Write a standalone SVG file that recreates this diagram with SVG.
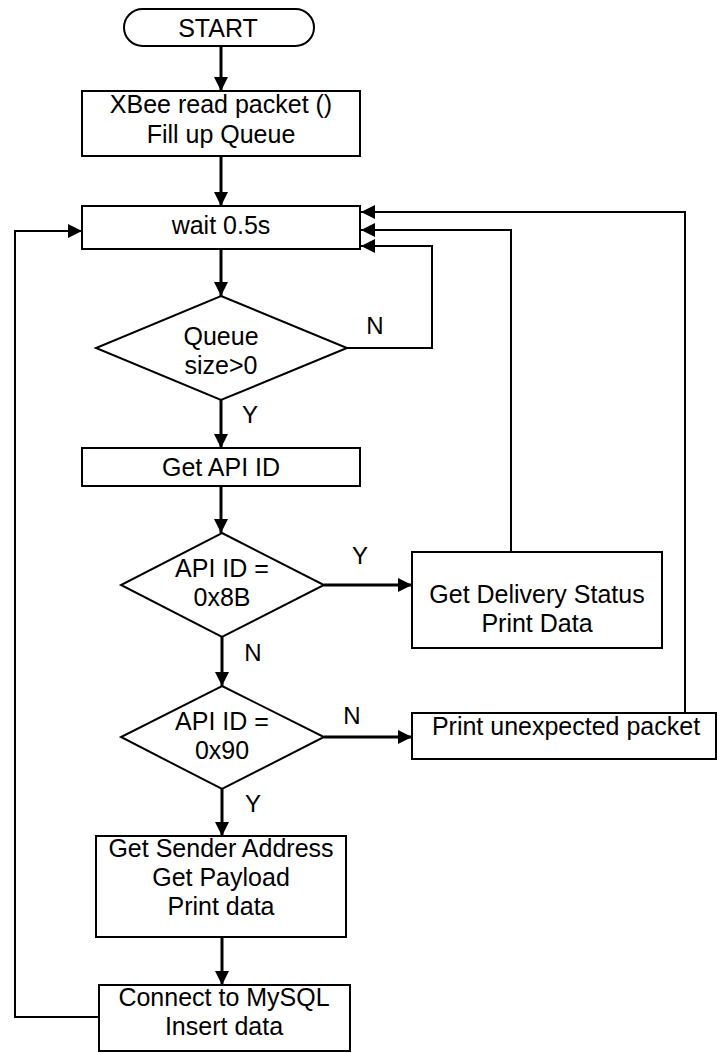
<svg xmlns="http://www.w3.org/2000/svg" width="718" height="1053" viewBox="0 0 718 1053">
<style>
.box{fill:#fff;stroke:#000;stroke-width:2}
.t{font-family:"Liberation Sans",Arial,sans-serif;font-size:25px;text-anchor:middle;fill:#000}
.lbl{font-family:"Liberation Sans",Arial,sans-serif;font-size:24px;text-anchor:middle;fill:#000}
.c{fill:none;stroke:#000;stroke-width:3}
.c2{fill:none;stroke:#000;stroke-width:2}
</style>
<defs>
<marker id="ah" markerUnits="userSpaceOnUse" markerWidth="14" markerHeight="14" refX="14" refY="7" orient="auto">
<path d="M0,0 L14,7 L0,14 z" fill="#000"/>
</marker>
</defs>
<rect width="718" height="1053" fill="#fff"/>
<g id="connectors">
<line class="c" x1="221" y1="46" x2="221" y2="91" marker-end="url(#ah)"/>
<line class="c" x1="221" y1="156" x2="221" y2="206" marker-end="url(#ah)"/>
<line class="c" x1="221" y1="249" x2="221" y2="296" marker-end="url(#ah)"/>
<line class="c" x1="221" y1="400" x2="221" y2="448" marker-end="url(#ah)"/>
<line class="c" x1="221" y1="486" x2="221" y2="533" marker-end="url(#ah)"/>
<line class="c" x1="222" y1="637" x2="222" y2="686" marker-end="url(#ah)"/>
<line class="c" x1="222" y1="789" x2="222" y2="836" marker-end="url(#ah)"/>
<line class="c" x1="222" y1="937" x2="222" y2="985" marker-end="url(#ah)"/>
<line class="c" x1="324" y1="585" x2="412" y2="585" marker-end="url(#ah)"/>
<line class="c" x1="324" y1="737" x2="412" y2="737" marker-end="url(#ah)"/>
<polyline class="c2" points="347,348 432,348 432,246 361,246" marker-end="url(#ah)"/>
<polyline class="c2" points="511,552 511,230 361,230" marker-end="url(#ah)"/>
<polyline class="c2" points="685,713 685,212 361,212" marker-end="url(#ah)"/>
<polyline class="c2" points="99,1017 15,1017 15,231 82,231" marker-end="url(#ah)"/>
<text class="lbl" x="375" y="334">N</text>
<text class="lbl" x="250" y="423">Y</text>
<text class="lbl" x="360" y="564">Y</text>
<text class="lbl" x="253" y="661">N</text>
<text class="lbl" x="352" y="724">N</text>
<text class="lbl" x="253" y="812">Y</text>
</g>
<g id="start">
<rect class="box" x="124" y="9" width="190" height="37" rx="18.5"/>
<text class="t" x="218" y="37">START</text>
</g>
<g id="read">
<rect class="box" x="82" y="91" width="278" height="65"/>
<text class="t" x="221" y="113">XBee read packet ()</text>
<text class="t" x="221" y="143">Fill up Queue</text>
</g>
<g id="wait">
<rect class="box" x="82" y="206" width="278" height="43"/>
<text class="t" x="221" y="234">wait 0.5s</text>
</g>
<g id="queue">
<polygon class="box" points="221,296 347,348 221,400 96,348"/>
<text class="t" x="221" y="345">Queue</text>
<text class="t" x="221" y="374">size&gt;0</text>
</g>
<g id="getapi">
<rect class="box" x="82" y="448" width="278" height="38"/>
<text class="t" x="221" y="476">Get API ID</text>
</g>
<g id="d8b">
<polygon class="box" points="222,533 324,585 222,637 121,585"/>
<text class="t" x="222" y="577">API ID =</text>
<text class="t" x="222" y="606">0x8B</text>
</g>
<g id="delivery">
<rect class="box" x="412" y="552" width="250" height="96"/>
<text class="t" x="537" y="603">Get Delivery Status</text>
<text class="t" x="537" y="632">Print Data</text>
</g>
<g id="d90">
<polygon class="box" points="222,686 324,737 222,789 121,737"/>
<text class="t" x="222" y="730">API ID =</text>
<text class="t" x="222" y="759">0x90</text>
</g>
<g id="unexpected">
<rect class="box" x="412" y="713" width="304" height="46"/>
<text class="t" x="566" y="735">Print unexpected packet</text>
</g>
<g id="sender">
<rect class="box" x="96" y="836" width="250" height="101"/>
<text class="t" x="221" y="857">Get Sender Address</text>
<text class="t" x="221" y="886">Get Payload</text>
<text class="t" x="221" y="915">Print data</text>
</g>
<g id="mysql">
<rect class="box" x="99" y="985" width="251" height="66"/>
<text class="t" x="224" y="1006">Connect to MySQL</text>
<text class="t" x="224" y="1035">Insert data</text>
</g>
</svg>
